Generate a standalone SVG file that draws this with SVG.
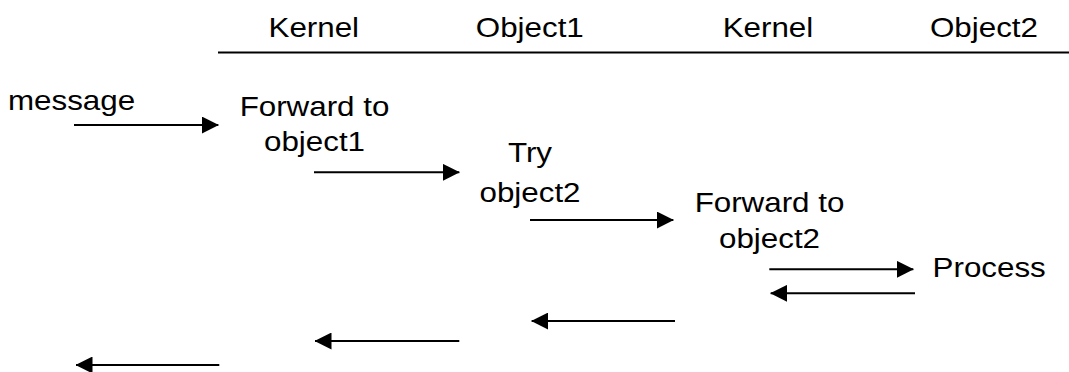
<svg xmlns="http://www.w3.org/2000/svg" width="1069" height="372" viewBox="0 0 1069 372">
  <style>
    text { font-family: "Liberation Sans", Arial, sans-serif; font-size: 28.5px; fill: #000; }
    .mid { text-anchor: middle; }
    .rule { stroke: #000; stroke-width: 2; fill: none; }
    .msg { stroke: #000; stroke-width: 2; fill: none; marker-end: url(#head); }
  </style>
  <defs>
    <marker id="head" markerUnits="userSpaceOnUse" markerWidth="17" markerHeight="17" viewBox="0 0 17 17" refX="16.5" refY="8.5" orient="auto">
      <path d="M0,0 L17,8.5 L0,17 Z" fill="#000"/>
    </marker>
  </defs>
  <rect width="1069" height="372" fill="#fff"/>

  <!-- lane headings and rule -->
  <g id="header">
    <text transform="matrix(1.1 0 0 1 268.5 37)">Kernel</text>
    <text transform="matrix(1.1 0 0 1 475.8 37)">Object1</text>
    <text transform="matrix(1.1 0 0 1 722.7 37)">Kernel</text>
    <text transform="matrix(1.1 0 0 1 930 37)">Object2</text>
    <line class="rule" x1="218" y1="52.5" x2="1069" y2="52.5"/>
  </g>

  <!-- steps -->
  <g id="message">
    <text transform="matrix(1.1 0 0 1 8 110)">message</text>
  </g>
  <g id="forward-object1">
    <text class="mid" transform="matrix(1.1 0 0 1 314.5 115.5)">Forward to</text>
    <text class="mid" transform="matrix(1.1 0 0 1 314.5 150.5)">object1</text>
  </g>
  <g id="try-object2">
    <text class="mid" transform="matrix(1.1 0 0 1 530 162.3)">Try</text>
    <text class="mid" transform="matrix(1.1 0 0 1 530 201.5)">object2</text>
  </g>
  <g id="forward-object2">
    <text class="mid" transform="matrix(1.1 0 0 1 769.5 211.7)">Forward to</text>
    <text class="mid" transform="matrix(1.1 0 0 1 769.5 248.3)">object2</text>
  </g>
  <g id="process">
    <text transform="matrix(1.1 0 0 1 932.6 277.3)">Process</text>
  </g>

  <!-- calls going right, replies coming back left -->
  <g id="connectors">
    <line class="msg" x1="74" y1="125" x2="218.3" y2="125"/>
    <line class="msg" x1="314" y1="172.3" x2="459.3" y2="172.3"/>
    <line class="msg" x1="530" y1="220" x2="673.3" y2="220"/>
    <line class="msg" x1="769.3" y1="269.3" x2="913.3" y2="269.3"/>
    <line class="msg" x1="915" y1="293.3" x2="770.7" y2="293.3"/>
    <line class="msg" x1="675" y1="321" x2="531.7" y2="321"/>
    <line class="msg" x1="459.3" y1="341" x2="315" y2="341"/>
    <line class="msg" x1="219.3" y1="365" x2="76" y2="365"/>
  </g>
</svg>
